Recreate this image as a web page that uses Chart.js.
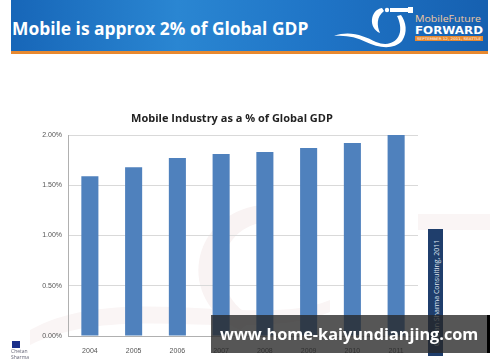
<!DOCTYPE html>
<html>
<head>
<meta charset="utf-8">
<script src="https://cdn.jsdelivr.net/npm/chart.js@4"></script>
<style>
  html, body { margin: 0; padding: 0; background: #fff; }
  #slide { position: relative; width: 500px; height: 362px; overflow: hidden; font-family: "Open Sans", "DejaVu Sans", sans-serif; }
  #header { position: absolute; left: 11px; top: 0; width: 477px; height: 51px;
            background: linear-gradient(90deg, #1766b8 0%, #2a86d2 35%, #1f74c6 65%, #1660b0 100%); }
  #header-line { position: absolute; left: 11px; top: 51px; width: 477px; height: 3px; background: #e8892f; }
  #header h1 { position: absolute; left: 1px; top: 16px; margin: 0; color: #fff; font-size: 17.4px; font-weight: 700; white-space: nowrap; }
  #logo { position: absolute; left: 330px; top: 0; }
  #bg-mark { position: absolute; left: 0; top: 0; }
  #chart-title { position: absolute; left: 0; width: 464px; top: 110px; text-align: center; font-size: 11px; font-weight: 700; color: #222; }
  #wrap { position: absolute; left: 0; top: 0; width: 500px; height: 362px; }
  #source { position: absolute; left: 428px; top: 229px; width: 15px; height: 127px; background: #1f3e6c; }
  #source span { position: absolute; left: 50%; top: 50%; transform: translate(-50%, -50%) rotate(-90deg); white-space: nowrap; color: #dfe6f0; font-size: 7px; }
  #banner { position: absolute; left: 211px; top: 315px; width: 276px; height: 38px; background: rgba(38, 38, 38, 0.78); border-right: 3px solid #000; }
  #banner span { position: absolute; left: 9px; top: 8px; color: #fff; font-size: 16.3px; font-weight: 700; white-space: nowrap; }
  #cs-logo { position: absolute; left: 12px; top: 341px; width: 8px; height: 7px; background: #1a2f8a; }
  #cs-text { position: absolute; left: 11px; top: 348px; font-size: 5px; line-height: 6px; color: #667; }
</style>
</head>
<body>
<div id="slide">
  <svg id="bg-mark" width="500" height="362">
    <path d="M 260 205 C 190 215, 175 300, 240 330 L 255 318 C 205 295, 215 225, 268 222 Z" fill="#f9f3f3"/>
    <path d="M 30 330 C 120 280, 260 330, 330 300 L 330 312 C 250 345, 120 300, 30 345 Z" fill="#faf5f5"/>
    <rect x="418" y="214" width="72" height="16" fill="#faf5f5"/>
  </svg>
  <div id="wrap"><canvas id="chart" width="500" height="362"></canvas></div>
  <div id="header"><h1>Mobile is approx 2% of Global GDP</h1></div>
  <div id="header-line"></div>
  <svg id="logo" width="170" height="51">
    <!-- swoosh -->
    <path d="M 4 36 C 20 30, 34 36, 46 42 C 58 47, 68 42, 70 32 C 71 26, 69 20, 67 16 L 71 15 C 76 22, 78 32, 72 41 C 64 50, 48 48, 36 42 C 26 37, 16 35, 4 36 Z" fill="#fff"/>
    <!-- head -->
    <path d="M 52 8 C 40 10, 38 28, 50 33 C 47 26, 46 17, 54 11 Z" fill="#fff"/>
    <!-- telescope -->
    <circle cx="57" cy="10" r="2.2" fill="#fff"/>
    <rect x="60" y="8" width="20" height="4" fill="#fff"/>
    <rect x="78" y="7" width="5" height="6" fill="#fff"/>
    <text x="85" y="22" font-size="8.5" fill="#f0c8a0" font-family="Open Sans" textLength="66" lengthAdjust="spacingAndGlyphs">MobileFuture</text>
    <text x="85" y="34" font-size="11" font-weight="700" fill="#fff" font-family="DejaVu Sans" textLength="68" lengthAdjust="spacingAndGlyphs">FORWARD</text>
    <rect x="85" y="36" width="68" height="5" fill="#e8892f"/>
    <text x="87" y="40" font-size="3.5" fill="#fff" font-family="DejaVu Sans" textLength="64" lengthAdjust="spacingAndGlyphs">SEPTEMBER 12, 2011, SEATTLE</text>
  </svg>
  <div id="chart-title">Mobile Industry as a % of Global GDP</div>
  <div id="source"><span>Chetan Sharma Consulting, 2011</span></div>
  <div id="banner"><span>www.home-kaiyundianjing.com</span></div>
  <div id="cs-logo"></div>
  <div id="cs-text">Chetan<br>Sharma</div>
</div>
<script>
const years = ['2004', '2005', '2006', '2007', '2008', '2009', '2010', '2011'];
const gdpShare = [1.59, 1.68, 1.77, 1.81, 1.83, 1.87, 1.92, 2.00];
const yTicks = [0, 0.5, 1.0, 1.5, 2.0];

new Chart(document.getElementById('chart'), {
    type: 'bar',
    data: {
        labels: years,
        datasets: [{
            data: gdpShare,
            backgroundColor: '#4f81bd',
            categoryPercentage: 1,
            barPercentage: 0.39
        }]
    },
    options: {
        responsive: false,
        animation: false,
        layout: { padding: { left: 0, right: 82, top: 135, bottom: 0 } },
        plugins: { legend: { display: false }, tooltip: { enabled: false } },
        scales: {
            x: {
                grid: { display: false },
                border: { color: '#b0b0b0' },
                ticks: { color: '#555', font: { size: 7, family: 'Liberation Sans' }, padding: 3 },
                afterFit: s => { s.height = 26; }
            },
            y: {
                min: 0,
                max: 2,
                afterBuildTicks: s => { s.ticks = yTicks.map(v => ({ value: v })); },
                grid: { color: '#d9d9d9', drawTicks: false },
                border: { color: '#b0b0b0' },
                ticks: {
                    color: '#555',
                    font: { size: 7, family: 'Liberation Sans' },
                    padding: 6,
                    callback: v => v.toFixed(2) + '%'
                },
                afterFit: s => { s.width = 68; }
            }
        }
    }
});
</script>
</body>
</html>
